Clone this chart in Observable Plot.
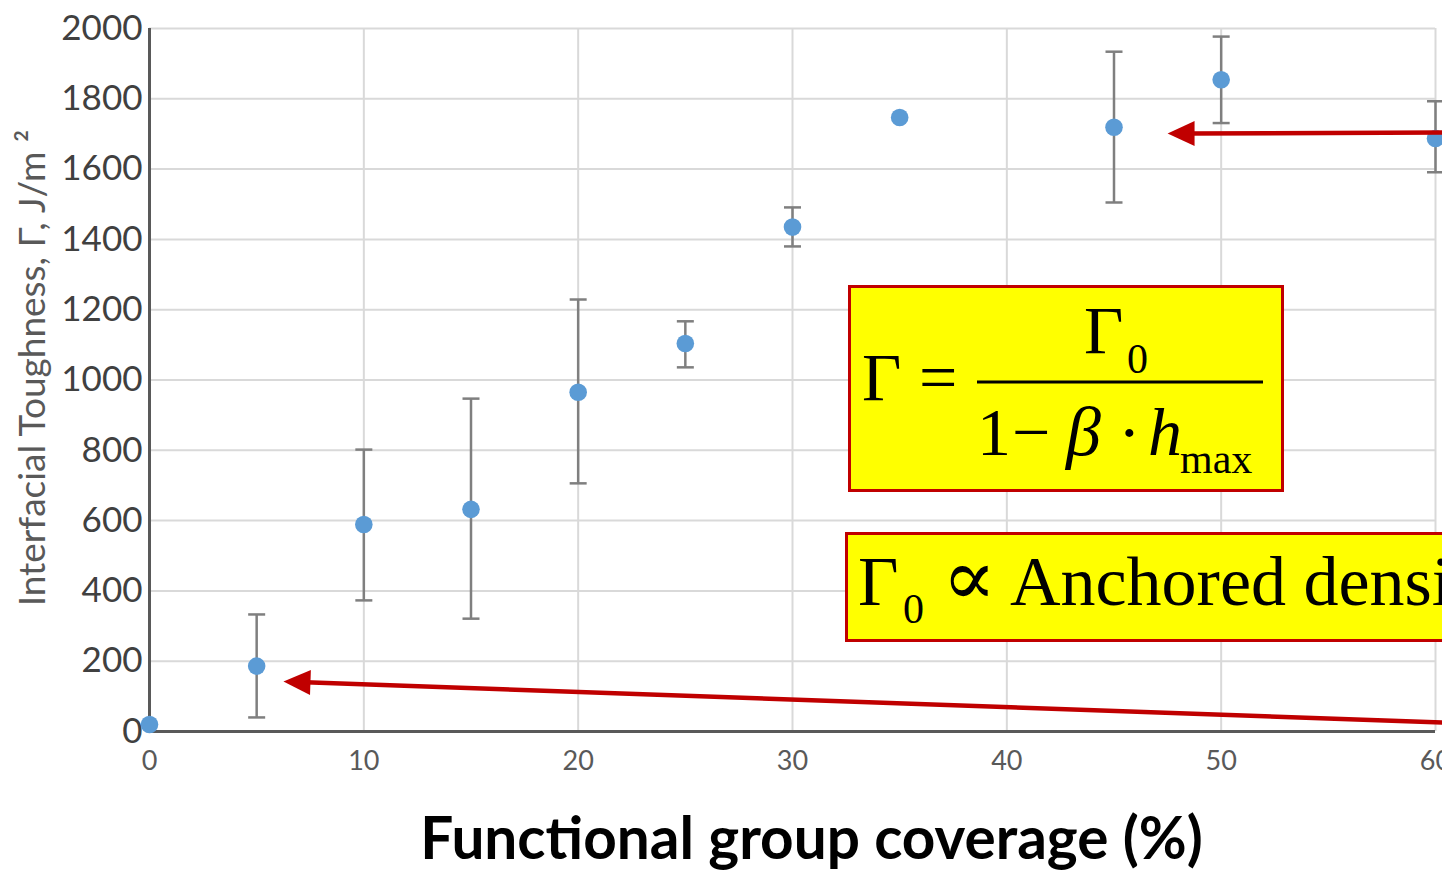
<!DOCTYPE html>
<html>
<head>
<meta charset="utf-8">
<script src="https://cdn.jsdelivr.net/npm/d3@7"></script>
<script src="https://cdn.jsdelivr.net/npm/@observablehq/plot@0.6"></script>
<style>
  html, body { margin: 0; padding: 0; background: white; overflow: hidden; }
  #wrap { position: relative; width: 1442px; height: 873px; overflow: hidden; }
  #overlay { position: absolute; left: 0; top: 0; }
  .serif { font-family: "Liberation Serif", "Times New Roman", "DejaVu Serif", serif; fill: #000; }
</style>
</head>
<body>
<div id="wrap"></div>
<script>
// ---- data ----
const coverage  = [0, 5, 10, 15, 20, 25, 30, 35, 45, 50, 60];
const toughness = [20, 186, 589, 632, 965, 1104, 1435, 1747, 1719, 1854, 1687];
const errLow    = [null, 40, 373, 321, 706, 1036, 1380, null, 1505, 1731, 1591];
const errHigh   = [null, 333, 802, 947, 1229, 1167, 1491, null, 1934, 1977, 1793];

const xTicks = [0, 10, 20, 30, 40, 50, 60];
const yTicks = [0, 200, 400, 600, 800, 1000, 1200, 1400, 1600, 1800, 2000];

const xTitle = "Functional group coverage (%)";
const yTitle = "Interfacial Toughness, Γ, J/m ²";

// annotation arrows (data units: coverage %, toughness)
const arrowStartX = [61, 61];
const arrowStartY = [1704, 24];
const arrowTipX   = [47.5, 6.25];
const arrowTipY   = [1701, 142];
const arrowAngle  = [0, 2];

// ---- tables built from the arrays ----
const points = coverage.map((x, i) => ({x, y: toughness[i], lo: errLow[i], hi: errHigh[i]}));
const withErr = points.filter(d => d.lo != null);
const arrows = arrowStartX.map((x, i) => ({x1: x, y1: arrowStartY[i], x2: arrowTipX[i], y2: arrowTipY[i], a: arrowAngle[i]}));

const capSymbol = {draw(ctx) { ctx.moveTo(-8.5, 0); ctx.lineTo(8.5, 0); }};
const headSymbol = {draw(ctx) { ctx.moveTo(0, 0); ctx.lineTo(27, -12.5); ctx.lineTo(27, 12.5); ctx.closePath(); }};

const red = "#C00000";

const chart = Plot.plot({
  width: 1442,
  height: 873,
  marginTop: 28,
  marginBottom: 142,
  marginLeft: 149,
  marginRight: 7,
  style: {fontFamily: "Lato, 'Open Sans', sans-serif", background: "white", overflow: "hidden"},
  x: {domain: [0, 60]},
  y: {domain: [0, 2000]},
  marks: [
    Plot.gridX(xTicks, {stroke: "#d9d9d9", strokeOpacity: 1, strokeWidth: 2}),
    Plot.gridY(yTicks, {stroke: "#d9d9d9", strokeOpacity: 1, strokeWidth: 2}),
    Plot.ruleY([0], {stroke: "#595959", strokeWidth: 3}),
    Plot.ruleX([0], {stroke: "#595959", strokeWidth: 3}),
    Plot.axisX(xTicks, {tickSize: 0, tickPadding: 19, fontSize: 27, fill: "#595959", label: null, tickFormat: d => String(d)}),
    Plot.axisY(yTicks, {tickSize: 0, tickPadding: 7, fontSize: 35, fill: "#404040", label: null, tickFormat: d => String(d)}),
    Plot.ruleX(withErr, {x: "x", y1: "lo", y2: "hi", stroke: "#7f7f7f", strokeWidth: 2.5}),
    Plot.dot(withErr, {x: "x", y: "lo", symbol: capSymbol, stroke: "#7f7f7f", strokeWidth: 2.5, fill: "none"}),
    Plot.dot(withErr, {x: "x", y: "hi", symbol: capSymbol, stroke: "#7f7f7f", strokeWidth: 2.5, fill: "none"}),
    Plot.dot(points, {x: "x", y: "y", r: 8.8, fill: "#5B9BD5", stroke: "none"}),
    Plot.arrow(arrows, {x1: "x1", y1: "y1", x2: "x2", y2: "y2", stroke: red, strokeWidth: 4.5, headLength: 0, insetEnd: 22}),
    Plot.dot(arrows, {x: "x2", y: "y2", symbol: headSymbol, rotate: "a", fill: red, stroke: "none"}),
    Plot.text([yTitle], {text: d => d, frameAnchor: "left", rotate: -90, dx: -116, dy: -12,
      textAnchor: "middle", lineAnchor: "middle", fontSize: 37, fill: "#595959"}),
    Plot.text([xTitle], {text: d => d, frameAnchor: "bottom", dx: 19, dy: 127,
      textAnchor: "middle", lineAnchor: "bottom", fontSize: 58.5, fontWeight: "bold", fill: "#000"})
  ]
});

const wrap = document.getElementById("wrap");
wrap.appendChild(chart);

// ---- formula annotation boxes (text overlay) ----
const overlay = `
<svg id="overlay" width="1442" height="873" xmlns="http://www.w3.org/2000/svg">
  <rect x="849.5" y="286.5" width="433" height="204" fill="#FFFF00" stroke="${red}" stroke-width="3"/>
  <text class="serif" x="862" y="400" font-size="68">Γ</text>
  <text class="serif" x="919" y="400" font-size="68">=</text>
  <line x1="977" x2="1263" y1="382" y2="382" stroke="#000" stroke-width="3"/>
  <text class="serif" x="1084" y="353" font-size="68">Γ</text>
  <text class="serif" x="1127" y="373" font-size="42">0</text>
  <text class="serif" x="977" y="455" font-size="68">1</text>
  <text class="serif" x="1012" y="455" font-size="68">−</text>
  <text class="serif" x="1066" y="455" font-size="70" font-style="italic">β</text>
  <text class="serif" x="1118" y="455" font-size="68">·</text>
  <text class="serif" x="1148" y="455" font-size="68" font-style="italic">h</text>
  <text class="serif" x="1180" y="473" font-size="42">max</text>

  <rect x="846.5" y="533.5" width="700" height="107" fill="#FFFF00" stroke="${red}" stroke-width="3"/>
  <text class="serif" x="858" y="605" font-size="70">Γ</text>
  <text class="serif" x="903" y="623" font-size="42">0</text>
  <text class="serif" x="942" y="605" font-size="80" font-weight="normal">∝</text>
  <text class="serif" x="1010" y="605" font-size="70">Anchored density</text>
</svg>`;
wrap.insertAdjacentHTML("beforeend", overlay);
</script>
</body>
</html>
